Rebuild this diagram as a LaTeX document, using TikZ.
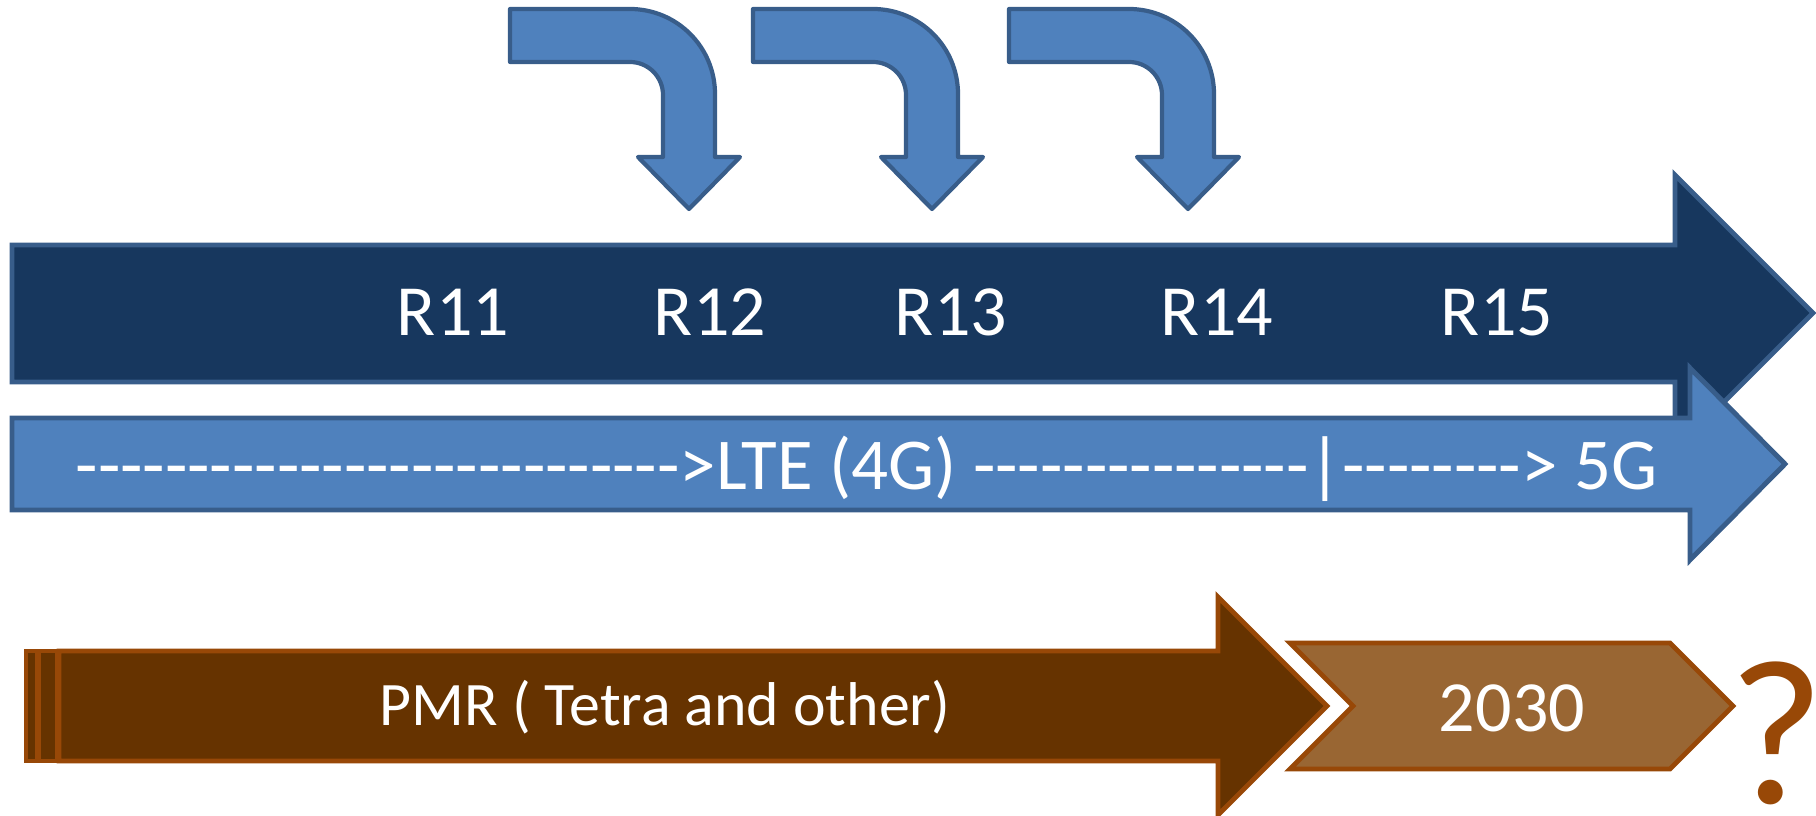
\documentclass[tikz,border=0pt]{standalone}
\usepackage{fontspec}
\setmainfont{Carlito}[Ligatures=TeXOff]
\usepackage{xcolor}
\usepackage{tikz}
\usetikzlibrary{positioning}

\definecolor{navyfill}{HTML}{17375E}
\definecolor{bluefill}{HTML}{4F81BD}
\definecolor{blueline}{HTML}{385D8A}
\definecolor{brownfill}{HTML}{663300}
\definecolor{brownline}{HTML}{984807}
\definecolor{tanfill}{HTML}{996633}

% a run of plain hyphens
\newcommand{\hyphenrun}[1]{\foreach \k in {1,...,#1}{\mbox{-}}}

\begin{document}
\begin{tikzpicture}[x=0.1mm, y=0.1mm,
    navyarrow/.style={fill=navyfill, draw=blueline, line width=1.4pt},
    bluearrow/.style={fill=bluefill, draw=blueline, line width=1.4pt},
    bendarrow/.style={fill=bluefill, draw=blueline, line width=1.2pt, line join=round},
    pmrarrow/.style={fill=brownfill, draw=brownline, line width=1.4pt},
    tanchevron/.style={fill=tanfill, draw=brownline, line width=1.4pt},
    rlabel/.style={text=white, inner sep=0pt, anchor=base, font=\fontsize{20.5}{24}\selectfont},
    barlabel/.style={text=white, inner sep=0pt, anchor=base, font=\fontsize{17.6}{21}\selectfont}]
    \useasboundingbox (0,0) rectangle (1816,816);

    % Bent arrows on top
    \foreach \l in {510,753,1009} {
        \draw[bendarrow] (\l,807) -- ++(120,0) arc[start angle=90, end angle=0, radius=85]
            -- ++(0,-63) -- ++(25,0) -- ++(-51,-52) -- ++(-51,52) -- ++(25,0) -- ++(0,62)
            arc[start angle=0, end angle=90, radius=33] -- ++(-120,0) -- cycle;
    }

    % Releases arrow
    \draw[navyarrow] (12,571) -- (1675,571) -- (1675,641) -- (1813,503)
        -- (1675,365) -- (1675,434) -- (12,434) -- cycle;
    \foreach \name/\x in {R11/453, R12/710, R13/951, R14/1217, R15/1497} {
        \node[rlabel] (\name) at (\x,480) {\name};
    }

    % LTE arrow
    \draw[bluearrow] (12,398) -- (1690,398) -- (1690,448) -- (1785,352)
        -- (1690,256) -- (1690,306) -- (12,306) -- cycle;
    \node[rlabel, anchor=base west, font=\fontsize{20.8}{24}\selectfont] (lte) at (75,326)
        {\hyphenrun{27}>LTE (4G) \hyphenrun{15}|\hyphenrun{8}> 5G};

    % PMR striped arrow
    \draw[pmrarrow] (26,55) rectangle (37,165);
    \draw[pmrarrow] (39,55) rectangle (57,165);
    \draw[pmrarrow] (59,165) -- (1218,165) -- (1218,219) -- (1327,110)
        -- (1218,1) -- (1218,55) -- (59,55) -- cycle;
    \node[barlabel] (pmr) at (665,90) {PMR ( Tetra and other)};

    % 2030 chevron
    \draw[tanchevron] (1290,173) -- (1670,173) -- (1733,110) -- (1670,47)
        -- (1290,47) -- (1353,110) -- cycle;
    \node[rlabel] (year) at (1512,84) {2030};
    \node[anchor=base, inner sep=0pt, text=brownline, font=\fontsize{59}{59}\selectfont] (ask) at (1777,12) {?};
\end{tikzpicture}
\end{document}
